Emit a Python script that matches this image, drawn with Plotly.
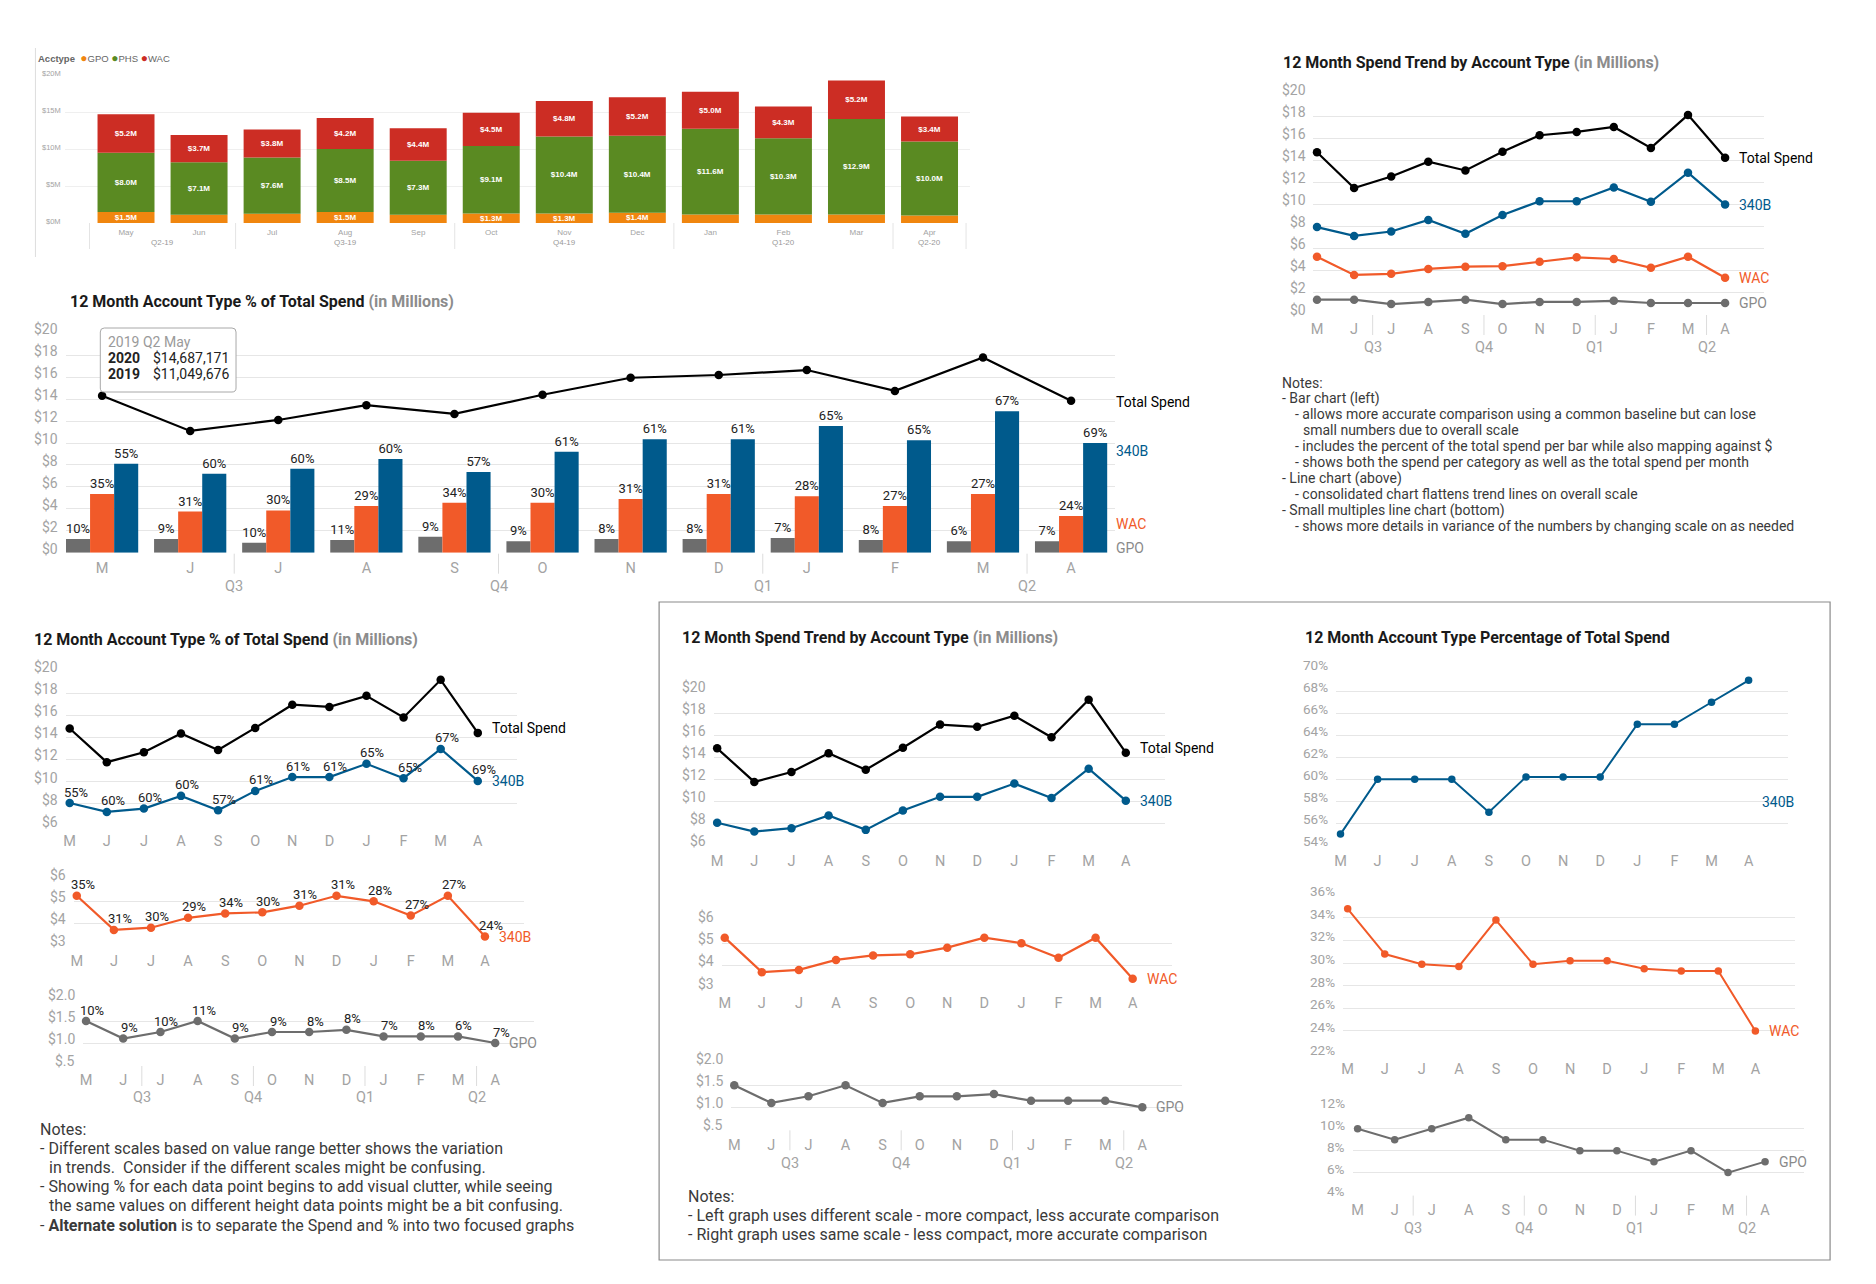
import plotly.graph_objects as go

W, H = 1876, 1284          # target page size
OFF = 8                    # default page margin around the figure
PW, PH = W - 2 * OFF, H - 2 * OFF
Y_SCALE = 1.0
Y_OFF = 0.0
X_SHIFT = -1.5
TEXT_SHIFT = -3.5
FONT = "Roboto"
BAR_FONT = "Liberation Sans"
TICK_C = "#a3a3a3"
GRID_C = "#e6e6e6"
TXT_C = "#222222"
SUB_C = "#8c8c8c"

C_TOTAL = "#000000"
C_340B = "#005a8c"
C_WAC = "#f15a29"
C_GPO = "#6d6d6d"
C_BAR_GPO = "#f0860f"
C_BAR_PHS = "#5a8a22"
C_BAR_WAC = "#cc2d24"

# ---------------- data ----------------
month_names = ["May", "Jun", "Jul", "Aug", "Sep", "Oct", "Nov", "Dec", "Jan", "Feb", "Mar", "Apr"]
month_letters = ["M", "J", "J", "A", "S", "O", "N", "D", "J", "F", "M", "A"]
bar_quarters = ["Q2-19", "Q3-19", "Q4-19", "Q1-20", "Q2-20"]
bar_quarter_starts = [0, 2, 5, 8, 11]
quarters = ["Q3", "Q4", "Q1", "Q2"]
quarter_starts = [2, 5, 8, 11]

# stacked bar chart ($M)
bar_gpo = [1.5, 1.1, 1.25, 1.5, 1.1, 1.3, 1.3, 1.4, 1.15, 1.15, 1.15, 1.0]
bar_phs = [8.0, 7.1, 7.6, 8.5, 7.3, 9.1, 10.4, 10.4, 11.6, 10.3, 12.9, 10.0]
bar_wac = [5.2, 3.7, 3.8, 4.2, 4.4, 4.5, 4.8, 5.2, 5.0, 4.3, 5.2, 3.4]
bar_gpo_shown = [True, False, False, True, False, True, True, True, False, False, False, False]

# grouped bar + total line chart ($M)
mid_gpo = [1.25, 1.25, 0.9, 1.15, 1.45, 1.05, 1.25, 1.25, 1.35, 1.15, 1.05, 1.05]
mid_wac = [5.35, 3.75, 3.85, 4.25, 4.55, 4.55, 4.9, 5.35, 5.15, 4.25, 5.35, 3.35]
mid_340b = [8.1, 7.2, 7.65, 8.55, 7.35, 9.2, 10.35, 10.35, 11.55, 10.25, 12.9, 10.0]
mid_total = [14.3, 11.1, 12.1, 13.45, 12.65, 14.4, 15.95, 16.2, 16.65, 14.75, 17.8, 13.85]
pct_gpo = [10, 9, 10, 11, 9, 9, 8, 8, 7, 8, 6, 7]
pct_wac = [35, 31, 30, 29, 34, 30, 31, 31, 28, 27, 27, 24]
pct_340b = [55, 60, 60, 60, 57, 61, 61, 61, 65, 65, 67, 69]

# consolidated trend chart ($M)
tr_total = [14.7, 11.45, 12.5, 13.85, 13.05, 14.75, 16.25, 16.55, 17.0, 15.1, 18.1, 14.2]
tr_340b = [7.9, 7.1, 7.5, 8.55, 7.3, 9.0, 10.25, 10.25, 11.5, 10.2, 12.85, 9.95]
tr_wac = [5.2, 3.55, 3.65, 4.1, 4.3, 4.35, 4.75, 5.15, 5.0, 4.2, 5.2, 3.3]
tr_gpo = [1.3, 1.3, 0.9, 1.1, 1.3, 0.9, 1.1, 1.1, 1.2, 1.0, 1.0, 1.0]

# small multiples ($M)
sm_total = [14.8, 11.75, 12.65, 14.35, 12.85, 14.85, 16.95, 16.75, 17.75, 15.8, 19.2, 14.4]
sm_340b = [8.05, 7.25, 7.55, 8.7, 7.4, 9.15, 10.4, 10.4, 11.6, 10.3, 12.95, 10.05]
sm_wac = [5.25, 3.7, 3.8, 4.25, 4.45, 4.5, 4.8, 5.25, 5.0, 4.35, 5.25, 3.4]
sm_gpo = [1.5, 1.1, 1.25, 1.5, 1.1, 1.25, 1.25, 1.3, 1.15, 1.15, 1.15, 1.0]

# percentage of total spend
share_340b = [55, 60, 60, 60, 57, 60.2, 60.2, 60.2, 65, 65, 67, 69]
share_wac = [34.8, 30.8, 29.9, 29.7, 33.8, 29.9, 30.2, 30.2, 29.5, 29.3, 29.3, 24.0]
share_gpo = [10, 9, 10, 11, 9, 9, 8, 8, 7, 8, 6, 7]

notes_top = [
    (0, "Notes:"),
    (0, "- Bar chart (left)"),
    (1, "- allows more accurate comparison using a common baseline but can lose"),
    (2, "small numbers due to overall scale"),
    (1, "- includes the percent of the total spend per bar while also mapping against $"),
    (1, "- shows both the spend per category as well as the total spend per month"),
    (0, "- Line chart (above)"),
    (1, "- consolidated chart flattens trend lines on overall scale"),
    (0, "- Small multiples line chart (bottom)"),
    (1, "- shows more details in variance of the numbers by changing scale on as needed"),
]
notes_left = [
    (0, "Notes:"),
    (0, "- Different scales based on value range better shows the variation"),
    (1, "in trends.  Consider if the different scales might be confusing."),
    (0, "- Showing % for each data point begins to add visual clutter, while seeing"),
    (1, "the same values on different height data points might be a bit confusing."),
    (0, "- <b>Alternate solution</b> is to separate the Spend and % into two focused graphs"),
]
notes_mid = [
    (0, "Notes:"),
    (0, "- Left graph uses different scale - more compact, less accurate comparison"),
    (0, "- Right graph uses same scale - less compact, more accurate comparison"),
]

# ---------------- helpers ----------------
fig = go.Figure()
axes = {}
annotations = []
shapes = []
X = list(range(len(month_letters)))


def px(x):
    return (x + X_SHIFT - OFF) / PW


def py(y):
    return 1 - ((y - Y_OFF) / Y_SCALE - OFF) / PH


def make_axes(n, l, r, t, b, xr, yr, yvals, ytext, xlabels=None, xfont=14.5, yfont=14,
              family=FONT, xticklen=2, ygap=5.8, grid=GRID_C, lift=4):
    xs = "xaxis" if n == 1 else f"xaxis{n}"
    ys = "yaxis" if n == 1 else f"yaxis{n}"
    xa = "x" if n == 1 else f"x{n}"
    ya = "y" if n == 1 else f"y{n}"
    axes[xs] = dict(domain=[px(l), px(r)], anchor=ya, range=xr, showgrid=False, zeroline=False,
                    showline=False, tickmode="array", tickvals=X,
                    ticktext=xlabels if xlabels is not None else month_letters,
                    tickfont=dict(family=family, size=xfont, color=TICK_C), ticks="outside",
                    ticklen=xticklen, tickcolor="rgba(0,0,0,0)", fixedrange=True)
    axes[ys] = dict(domain=[py(b), py(t)], anchor=xa, range=yr, showgrid=True, gridcolor=grid,
                    gridwidth=1, zeroline=False, showline=False, tickmode="array", tickvals=yvals,
                    showticklabels=False, ticks="", fixedrange=True)
    # value labels sit slightly above their gridlines, as in the original
    for v, s in zip(yvals, ytext):
        annotations.append(dict(x=px(l - ygap), y=v, xref="paper", yref=ya, text=s,
                                showarrow=False, xanchor="right", yanchor="middle", yshift=lift,
                                font=dict(family=family, size=yfont, color=TICK_C)))
    return xa, ya


def line(xa, ya, y, color, width=2.2, msize=8.5):
    fig.add_trace(go.Scatter(x=X, y=y, mode="lines+markers", xaxis=xa, yaxis=ya,
                             line=dict(color=color, width=width),
                             marker=dict(color=color, size=msize), cliponaxis=False,
                             hoverinfo="skip"))


def text(x, y, s, size=14, color=TXT_C, xref="paper", yref="paper", xanchor="left",
         yanchor="middle", xshift=0, yshift=0, family=FONT):
    if xref == "paper":
        x = px(x + TEXT_SHIFT)
    if yref == "paper":
        y = py(y)
    annotations.append(dict(x=x, y=y, xref=xref, yref=yref, text=s, showarrow=False,
                            xanchor=xanchor, yanchor=yanchor, xshift=xshift, yshift=yshift,
                            font=dict(family=family, size=size, color=color)))


def end_label(xa, ya, series, s, color, xshift=12, yshift=0):
    text(X[-1], series[-1], s, size=14, color=color, xref=xa, yref=ya, xshift=xshift, yshift=yshift)


def title(x, y, main, sub=None, size=16, family=FONT):
    s = f"<b>{main}</b>"
    if sub:
        s += f" <span style='color:{SUB_C}'><b>{sub}</b></span>"
    text(x, y, s, size=size, color="#1a1a1a", family=family)


def quarter_marks(xa, bottom, label_y, bounds, labels, color="#dcdcdc", size=14.5, depth=20):
    for bnd in bounds:
        shapes.append(dict(type="line", xref=xa, yref="paper", x0=bnd, x1=bnd,
                           y0=py(bottom + 1), y1=py(bottom + 1 + depth),
                           line=dict(color=color, width=1)))
    for bnd, lab in zip(bounds, labels):
        text(bnd, label_y, lab, size=size, color=TICK_C, xref=xa, xanchor="center")


def pct_labels(xa, ya, series, pcts):
    for i, (v, p) in enumerate(zip(series, pcts)):
        text(i, v, f"{p}%", size=13, color=TXT_C, xref=xa, yref=ya, xanchor="center",
             xshift=6, yshift=11)


def notes(x0, y0, step, lines, indents, size):
    for i, (lvl, s) in enumerate(lines):
        text(x0 + indents[lvl], y0 + i * step, s, size=size, color="#3a3a3a")


def dollar_ticks(lo, hi, step):
    vals = []
    v = lo
    while v <= hi + 1e-9:
        vals.append(v)
        v += step
    return vals, [f"${v:g}" for v in vals]


q_bounds = [s - 0.5 for s in quarter_starts]

# ---------------- 1. stacked bar chart (top left) ----------------
bv = [0, 5, 10, 15, 20]
xa, ya = make_axes(1, 63, 970, 75, 223, [-0.83, 11.56], [0, 20], bv, [f"${v}M" for v in bv],
                   xlabels=month_names, xfont=8, yfont=7.5, family=BAR_FONT, xticklen=1,
                   ygap=2.7, grid="#efefef", lift=2)
base_phs = bar_gpo
base_wac = [g + p for g, p in zip(bar_gpo, bar_phs)]
for vals, base, color, lbls in [
    (bar_gpo, [0] * 12, C_BAR_GPO, [f"${v:.1f}M" if s else "" for v, s in zip(bar_gpo, bar_gpo_shown)]),
    (bar_phs, base_phs, C_BAR_PHS, [f"${v:.1f}M" for v in bar_phs]),
    (bar_wac, base_wac, C_BAR_WAC, [f"${v:.1f}M" for v in bar_wac]),
]:
    fig.add_trace(go.Bar(x=X, y=vals, base=base, xaxis=xa, yaxis=ya, width=0.78, offset=-0.39,
                         marker=dict(color=color, line=dict(width=0)), text=lbls,
                         textposition="inside", insidetextanchor="middle", textangle=0,
                         constraintext="none",
                         textfont=dict(family=BAR_FONT, size=8, color="white", weight="bold"),
                         hoverinfo="skip"))
bar_bounds = [s - 0.5 for s in bar_quarter_starts] + [len(month_names) - 0.5]
for bnd in bar_bounds:
    shapes.append(dict(type="line", xref=xa, yref="paper", x0=bnd, x1=bnd, y0=py(223), y1=py(249),
                       line=dict(color="#e4e4e4", width=1)))
for i, lab in enumerate(bar_quarters):
    c = (bar_bounds[i] + bar_bounds[i + 1]) / 2
    text(c, 243, lab, size=8, color="#999999", xref=xa, xanchor="center", family=BAR_FONT)
shapes.append(dict(type="line", xref="paper", yref="paper", x0=px(33), x1=px(33), y0=py(48),
                   y1=py(257), line=dict(color="#dddddd", width=1)))
dot = "<span style='color:{c};font-size:12px'>●</span>"
text(37, 58, (f"<b>Acctype</b>  {dot.format(c=C_BAR_GPO)}GPO "
              f"{dot.format(c=C_BAR_PHS)}PHS "
              f"{dot.format(c=C_BAR_WAC)}WAC"),
     size=9.5, color="#666666", family=BAR_FONT)

# ---------------- 2. grouped bars + total (middle left) ----------------
dv, dt = dollar_ticks(0, 20, 2)
xa, ya = make_axes(2, 63.6, 1115, 333.3, 552.7, [-0.41, 11.5], [0, 20], dv, dt)
for vals, pcts, color in [(mid_gpo, pct_gpo, C_GPO), (mid_wac, pct_wac, C_WAC),
                          (mid_340b, pct_340b, C_340B)]:
    fig.add_trace(go.Bar(x=X, y=vals, xaxis=xa, yaxis=ya, marker=dict(color=color, line=dict(width=0)),
                         text=[f"{p}%" for p in pcts], textposition="outside", constraintext="none",
                         textangle=0, cliponaxis=False,
                         textfont=dict(family=FONT, size=13, color=TXT_C), hoverinfo="skip"))
line(xa, ya, mid_total, C_TOTAL)
title(69.5, 301.5, "12 Month Account Type % of Total Spend", "(in Millions)")
quarter_marks(xa, 552.7, 586, q_bounds, quarters)
for s, yy, c in [("Total Spend", 402, C_TOTAL), ("340B", 451, C_340B), ("WAC", 524, C_WAC),
                 ("GPO", 547.5, "#8a8a8a")]:
    text(1117, yy, s, size=14, color=c)


# tooltip
def rounded_path(x0, y0, x1, y1, r):
    pts = [("M", [(x0 + r, y0)]), ("L", [(x1 - r, y0)]), ("Q", [(x1, y0), (x1, y0 + r)]),
           ("L", [(x1, y1 - r)]), ("Q", [(x1, y1), (x1 - r, y1)]), ("L", [(x0 + r, y1)]),
           ("Q", [(x0, y1), (x0, y1 - r)]), ("L", [(x0, y0 + r)]), ("Q", [(x0, y0), (x0 + r, y0)])]
    out = ""
    for cmd, ps in pts:
        out += cmd + " ".join(f"{px(a):.5f},{py(b):.5f}" for a, b in ps) + " "
    return out + "Z"


shapes.append(dict(type="path", xref="paper", yref="paper", path=rounded_path(98, 328, 234, 392, 4),
                   fillcolor="white", line=dict(color="#a8a8a8", width=1), layer="above"))
text(107, 342.3, "2019 Q2 May", size=14, color="#9a9a9a")
text(107, 358.3, "<b>2020</b>", size=14, color=TXT_C)
text(152.5, 358.3, "$14,687,171", size=14, color=TXT_C)
text(107, 374.3, "<b>2019</b>", size=14, color=TXT_C)
text(152.5, 374.3, "$11,049,676", size=14, color=TXT_C)

# ---------------- 3. consolidated trend (top right) ----------------
xa, ya = make_axes(3, 1313.6, 1765.7, 94, 314, [-0.1, 12.06], [0, 20], dv, dt)
line(xa, ya, tr_gpo, C_GPO)
line(xa, ya, tr_wac, C_WAC)
line(xa, ya, tr_340b, C_340B)
line(xa, ya, tr_total, C_TOTAL)
end_label(xa, ya, tr_total, "Total Spend", C_TOTAL)
end_label(xa, ya, tr_340b, "340B", C_340B)
end_label(xa, ya, tr_wac, "WAC", C_WAC)
end_label(xa, ya, tr_gpo, "GPO", "#8a8a8a")
title(1285, 62.3, "12 Month Spend Trend by Account Type", "(in Millions)")
quarter_marks(xa, 314, 347.3, q_bounds, quarters)
notes(1283.6, 382.5, 15.95, notes_top, [0, 13.2, 21], 14)

# ---------------- 4-6. small multiples, different scales (bottom left) ----------------
v4, t4 = dollar_ticks(6, 20, 2)
xa, ya = make_axes(4, 63.6, 515.7, 671, 825.7, [-0.1, 12.06], [6, 20], v4, t4)
line(xa, ya, sm_340b, C_340B)
line(xa, ya, sm_total, C_TOTAL)
pct_labels(xa, ya, sm_340b, pct_340b)
end_label(xa, ya, sm_total, "Total Spend", C_TOTAL, yshift=4.5)
end_label(xa, ya, sm_340b, "340B", C_340B)
title(33.5, 639.3, "12 Month Account Type % of Total Spend", "(in Millions)")

v5, t5 = dollar_ticks(3, 6, 1)
xa, ya = make_axes(5, 71.8, 522.9, 879.3, 945.3, [-0.07, 12.06], [3, 6], v5, t5)
line(xa, ya, sm_wac, C_WAC)
pct_labels(xa, ya, sm_wac, pct_wac)
end_label(xa, ya, sm_wac, "340B", C_WAC)

v6 = [0.5, 1.0, 1.5, 2.0]
t6 = ["$.5", "$1.0", "$1.5", "$2.0"]
xa, ya = make_axes(6, 80.7, 532.5, 999, 1065, [-0.08, 12.04], [0.5, 2.0], v6, t6)
line(xa, ya, sm_gpo, C_GPO)
pct_labels(xa, ya, sm_gpo, pct_gpo)
end_label(xa, ya, sm_gpo, "GPO", "#8a8a8a")
quarter_marks(xa, 1065, 1097, q_bounds, quarters)
notes(39.5, 1129.5, 19.1, notes_left, [0, 8.5], 16)

# ---------------- 7-9. small multiples, same scale (bottom middle) ----------------
xa, ya = make_axes(7, 713.2, 1164.8, 691, 845.3, [-0.08, 12.05], [6, 20], v4, t4)
line(xa, ya, sm_340b, C_340B)
line(xa, ya, sm_total, C_TOTAL)
end_label(xa, ya, sm_total, "Total Spend", C_TOTAL, yshift=4.5)
end_label(xa, ya, sm_340b, "340B", C_340B)
title(682.6, 637.7, "12 Month Spend Trend by Account Type", "(in Millions)")

xa, ya = make_axes(8, 720.8, 1171.6, 921, 987.7, [-0.08, 12.05], [3, 6], v5, t5)
line(xa, ya, sm_wac, C_WAC)
end_label(xa, ya, sm_wac, "WAC", C_WAC)

xa, ya = make_axes(9, 729.6, 1182.4, 1063.3, 1129.3, [-0.1, 12.08], [0.5, 2.0], v6, t6)
line(xa, ya, sm_gpo, C_GPO)
end_label(xa, ya, sm_gpo, "GPO", "#8a8a8a")
quarter_marks(xa, 1129.3, 1163.3, q_bounds, quarters)
notes(688, 1196.5, 19.1, notes_mid, [0], 16)


# ---------------- 10-12. percentage of total spend (bottom right) ----------------
def pct_ticks(lo, hi, step):
    vals = list(range(lo, hi + 1, step))
    return vals, [f"{v}%" for v in vals]


v10, t10 = pct_ticks(54, 70, 2)
xa, ya = make_axes(10, 1336.4, 1788.9, 669.3, 845.1, [-0.12, 12.05], [54, 70], v10, t10, yfont=13.5)
line(xa, ya, share_340b, C_340B, width=2, msize=7.5)
text(1764.5, 802, "340B", size=14, color=C_340B)
title(1306.8, 637.8, "12 Month Account Type Percentage of Total Spend")

v11, t11 = pct_ticks(22, 36, 2)
xa, ya = make_axes(11, 1343.6, 1796, 895.2, 1053.6, [-0.12, 12.06], [22, 36], v11, t11, yfont=13.5)
line(xa, ya, share_wac, C_WAC, width=2, msize=7.5)
end_label(xa, ya, share_wac, "WAC", C_WAC)

v12, t12 = pct_ticks(4, 12, 2)
xa, ya = make_axes(12, 1353.2, 1805.7, 1106.7, 1194.6, [-0.13, 12.06], [4, 12], v12, t12, yfont=13.5)
line(xa, ya, share_gpo, C_GPO, width=2, msize=7.5)
end_label(xa, ya, share_gpo, "GPO", "#8a8a8a")
quarter_marks(xa, 1194.6, 1228.6, q_bounds, quarters)

# frame around the two bottom-right panels
shapes.append(dict(type="rect", xref="paper", yref="paper", x0=px(658), x1=px(1831.5), y0=py(602),
                   y1=py(1260), line=dict(color="#8a8a8a", width=1.2), fillcolor="rgba(0,0,0,0)"))

fig.update_layout(
    width=PW, height=PH, margin=dict(l=0, r=0, t=0, b=0), autosize=False,
    paper_bgcolor="white", plot_bgcolor="white", showlegend=False, hovermode=False,
    barmode="group", bargap=0.18, bargroupgap=0,
    font=dict(family=FONT, color=TXT_C),
    annotations=annotations, shapes=shapes, **axes,
)

fig.write_html("out.html", config={"displayModeBar": False, "staticPlot": True})
